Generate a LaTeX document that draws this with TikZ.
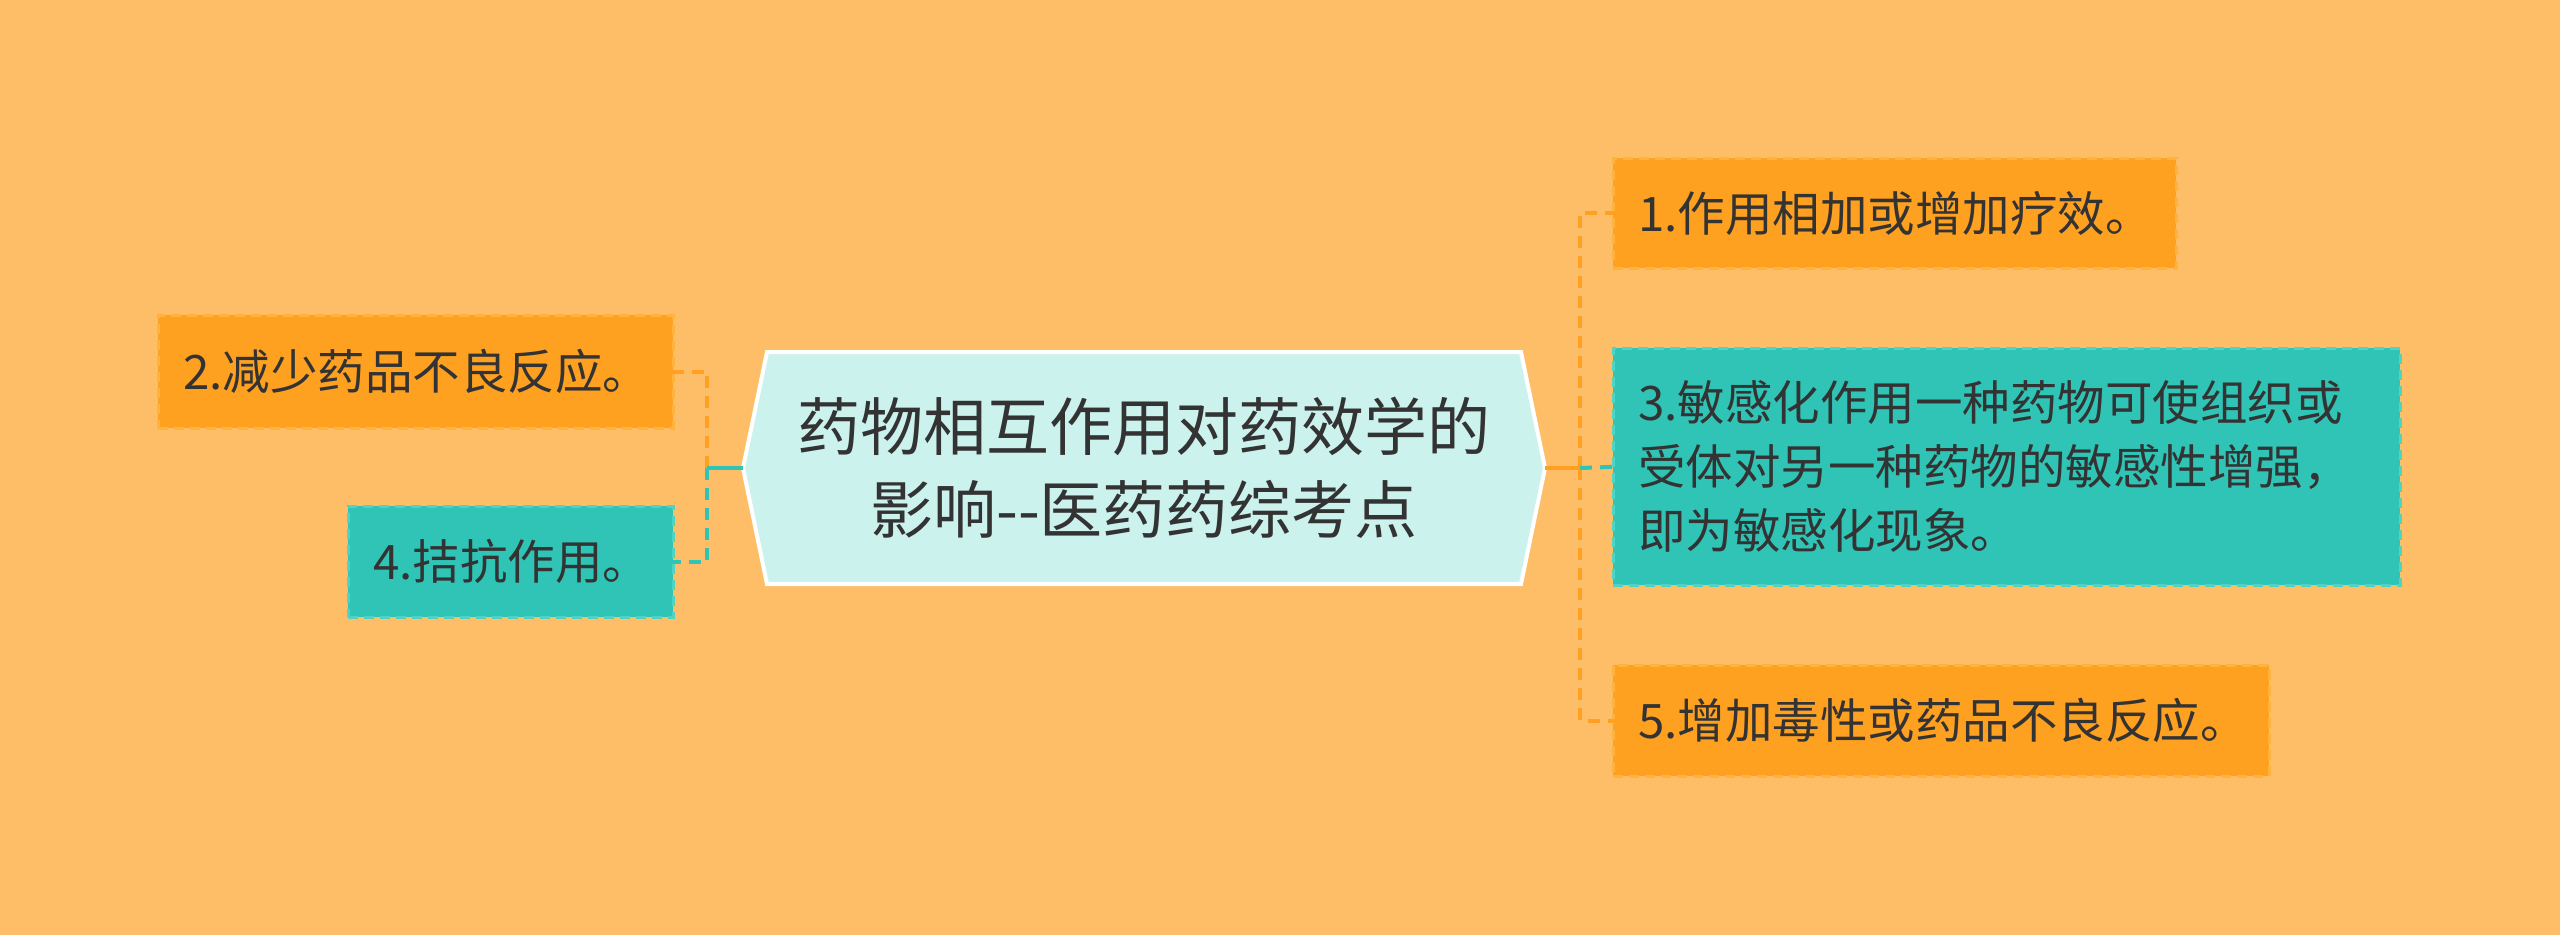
\documentclass[tikz,border=0pt]{standalone}
\usepackage{fontspec}
\newfontfamily\cjk{Noto Sans CJK SC}
\definecolor{bg}{RGB}{254,190,103}
\definecolor{obox}{RGB}{254,160,32}
\definecolor{oline}{RGB}{255,178,60}
\definecolor{tbox}{RGB}{47,196,182}
\definecolor{tline}{RGB}{80,210,196}
\definecolor{cfill}{RGB}{204,242,238}
\definecolor{txt}{RGB}{51,51,51}
\definecolor{oconn}{RGB}{255,160,32}
\definecolor{tconn}{RGB}{47,196,182}
\tikzset{
  box/.style={draw, dash pattern=on 10pt off 6pt, line width=3pt, inner xsep=25pt, inner ysep=0pt,
    align=left, text=txt, font=\cjk\fontsize{47.5}{64}\selectfont},
  obx/.style={box, fill=obox, draw=oline},
  tbx/.style={box, fill=tbox, draw=tline},
  conn/.style={line width=4pt, dash pattern=on 12pt off 8pt},
}
\begin{document}
\begin{tikzpicture}[x=1pt,y=-1pt]
\useasboundingbox[fill=bg] (0,0) rectangle (2560,935);
% central hexagon
\draw[white, line width=4pt, fill=cfill] (743,468) -- (767,352) -- (1521,352) -- (1545,468) -- (1521,584) -- (767,584) -- cycle;
\node[minimum width=802pt, minimum height=232pt, inner sep=0pt, align=center, text=txt,
  font=\cjk\fontsize{63}{83}\selectfont] (c) at (1144,468) {药物相互作用对药效学的\\影响-{}-医药药综考点};
% left children
\node[obx, minimum width=515pt, minimum height=113pt, text width=465pt] (n2) at (415.5,371.5) {2.减少药品不良反应。};
\node[tbx, minimum width=325pt, minimum height=111pt, text width=275pt] (n4) at (510.5,561.5) {4.拮抗作用。};
% right children
\node[obx, minimum width=563pt, minimum height=110pt, text width=513pt] (n1) at (1894.5,213) {1.作用相加或增加疗效。};
\node[tbx, minimum width=787pt, minimum height=237pt, text width=737pt] (n3) at (2006.5,466.5) {3.敏感化作用一种药物可使组织或\\受体对另一种药物的敏感性增强，\\即为敏感化现象。};
\node[obx, minimum width=656pt, minimum height=111pt, text width=606pt] (n5) at (1941,720.5) {5.增加毒性或药品不良反应。};
% trunks
\coordinate (lt) at (707,468);
\coordinate (rt) at (1580,468);
% left connectors
\draw[conn, oconn] (lt) |- ([xshift=-12pt]n2.east);
\draw[conn, tconn] (lt) |- ([xshift=-12pt]n4.east);
\draw[line width=4pt, tconn] (c.west) -- (lt);
% right connectors
\draw[conn, oconn] (rt) |- ([xshift=12pt]n1.west);
\draw[conn, oconn] (rt) |- ([xshift=12pt]n5.west);
\draw[conn, tconn] (rt) -- ([xshift=12pt]n3.west);
\draw[line width=4pt, oconn] (c.east) -- (rt);
\end{tikzpicture}
\end{document}
